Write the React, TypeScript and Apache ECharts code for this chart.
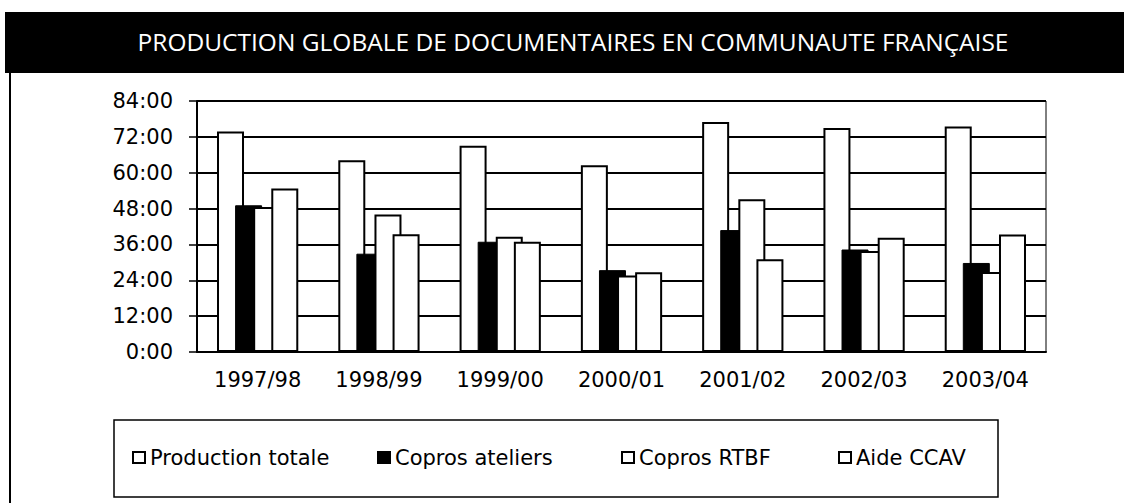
import React, { useEffect, useRef } from 'react';
import * as echarts from 'echarts';

const categories = ['1997/98', '1998/99', '1999/00', '2000/01', '2001/02', '2002/03', '2003/04'];
const productionTotale = [73.8, 64.2, 69.0, 62.5, 77.0, 75.0, 75.5];
const coprosAteliers = [49.1, 32.9, 36.9, 27.4, 40.8, 34.3, 29.8];
const coprosRTBF = [48.5, 46.0, 38.6, 25.6, 51.1, 33.8, 26.8];
const aideCCAV = [54.7, 39.4, 36.9, 26.7, 31.0, 38.2, 39.3];
const seriesNames = ['Production totale', 'Copros ateliers', 'Copros RTBF', 'Aide CCAV'];
const yMax = 84;
const yInterval = 12;
const titleText = 'PRODUCTION GLOBALE DE DOCUMENTAIRES EN COMMUNAUTE FRANÇAISE';

export default function App() {
  const ref = useRef<HTMLDivElement>(null);
  useEffect(() => {
    const chart = echarts.init(ref.current as HTMLDivElement, null, { renderer: 'svg' });
    const white = { color: '#fff', borderColor: '#000', borderWidth: 2 };
    const black = { color: '#000', borderColor: '#000', borderWidth: 1 };
    const mk = (name: string, data: number[], style: any) => ({
      type: 'bar',
      name,
      data,
      barWidth: 27,
      barGap: '-33%',
      itemStyle: style,
      emphasis: { disabled: true },
    });
    const legendLefts = [132, 377, 621, 838];
    const font = 'DejaVu Sans';
    chart.setOption({
      animation: false,
      backgroundColor: '#fff',
      textStyle: { fontFamily: font },
      grid: { left: 197, right: 78, top: 101, bottom: 151, show: true, borderColor: '#000', borderWidth: 1 },
      xAxis: {
        type: 'category',
        data: categories,
        axisLine: { lineStyle: { color: '#000', width: 2 } },
        axisTick: { length: 6, lineStyle: { color: '#000', width: 2 } },
        axisLabel: { color: '#000', fontSize: 21, margin: 17, fontFamily: font },
      },
      yAxis: {
        type: 'value',
        min: 0,
        max: yMax,
        interval: yInterval,
        axisLine: { show: true, lineStyle: { color: '#000', width: 2 } },
        axisTick: { show: true, length: 8, lineStyle: { color: '#000', width: 1.5 } },
        splitLine: { lineStyle: { color: '#000', width: 2 } },
        axisLabel: {
          color: '#000',
          fontSize: 21,
          margin: 24,
          fontFamily: font,
          formatter: (v: number) => `${v}:00`,
        },
      },
      legend: seriesNames.map((n, i) => ({
        data: [n],
        left: legendLefts[i],
        top: 447,
        padding: 0,
        icon: 'rect',
        itemWidth: 12,
        itemHeight: 11,
        selectedMode: false,
        textStyle: { color: '#000', fontSize: 21, fontFamily: font, padding: [0, 0, 0, 0] },
      })),
      graphic: [
        { type: 'rect', shape: { x: 5, y: 12, width: 1119, height: 61 }, style: { fill: '#000' } },
        {
          type: 'text',
          x: 573,
          y: 41,
          style: {
            text: titleText,
            fill: '#fff',
            font: '24.5px "Open Sans"',
            textAlign: 'center',
            textVerticalAlign: 'middle',
          },
        },
        { type: 'line', shape: { x1: 10, y1: 73, x2: 10, y2: 503 }, style: { stroke: '#000', lineWidth: 2 } },
        {
          type: 'rect',
          shape: { x: 114, y: 420, width: 884, height: 77 },
          style: { fill: 'none', stroke: '#000', lineWidth: 1.5 },
        },
      ],
      series: [
        mk(seriesNames[0], productionTotale, white),
        mk(seriesNames[1], coprosAteliers, black),
        mk(seriesNames[2], coprosRTBF, white),
        mk(seriesNames[3], aideCCAV, white),
      ],
    });
    return () => chart.dispose();
  }, []);
  return (
    <div
      ref={ref}
      style={{ position: 'fixed', left: 0, top: 0, width: 1124, height: 503, background: '#fff' }}
    />
  );
}
